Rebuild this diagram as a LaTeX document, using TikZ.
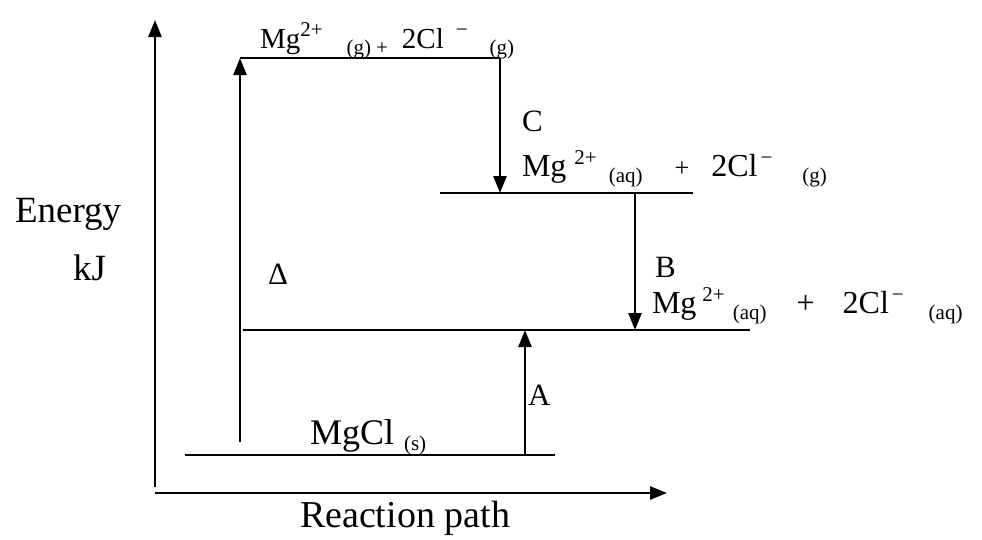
\documentclass[tikz,border=0pt]{standalone}
\usepackage{fontspec}
\setmainfont{Liberation Serif}
\usetikzlibrary{arrows.meta}
\newcommand{\sz}[1]{\fontsize{#1}{#1}\selectfont}
\newcommand{\sps}[1]{\raisebox{12pt}{\sz{21}#1}}
\newcommand{\sbs}[1]{\raisebox{-6pt}{\sz{21}#1}}
\begin{document}
\begin{tikzpicture}[x=1pt,y=-1pt,line width=2.6pt,
  ar/.style={-{Triangle[length=17pt,width=13pt]}},
  lbl/.style={anchor=base west,inner sep=0pt,outer sep=0pt},
  chem/.style={lbl,font=\sz{32}},
  axl/.style={lbl,font=\sz{37}}]
\useasboundingbox (0,0) rectangle (982,539);
% axes
\coordinate (yo) at (155,487);
\coordinate (yt) at (155,20);
\coordinate (xo) at (155,493);
\coordinate (xt) at (667,493);
\draw[ar] (yo) -- (yt);
\draw[ar] (xo) -- (xt);
% levels
\coordinate (tL) at (240,58);
\coordinate (tR) at (500,58);
\coordinate (cL) at (440,193);
\coordinate (cR) at (693,193);
\coordinate (bL) at (243,330);
\coordinate (bR) at (750,330);
\coordinate (sL) at (185,455);
\coordinate (sR) at (555,455);
\draw (tL) -- (tR);
\draw (cL) -- (cR);
\draw (bL) -- (bR);
\draw (sL) -- (sR);
% arrows
\coordinate (dS) at (240,442);
\coordinate (cE) at (500,193);
\coordinate (bS) at (635,193);
\coordinate (bE) at (635,330);
\coordinate (aS) at (525,455);
\coordinate (aE) at (525,330);
\draw[ar] (dS) -- (tL);
\draw[ar] (tR) -- (cE);
\draw[ar] (bS) -- (bE);
\draw[ar] (aS) -- (aE);
% labels
\node[lbl,font=\sz{29}] (top) at (260,48) {Mg\sps{2+}\hspace{24pt}\sbs{(g)}\hspace{5pt}\sbs{+}\hspace{14pt}2Cl\hspace{12pt}\sps{−}\hspace{22pt}\sbs{(g)}};
\node[chem,font=\sz{31}] (cl) at (522,131) {C};
\node[chem] (ct) at (522,176) {Mg\hspace{8pt}\sps{2+}\hspace{12pt}\sbs{(aq)}\hspace{32pt}{\sz{26}+}\hspace{22pt}2Cl\hspace{3pt}\sps{−}\hspace{30pt}\sbs{(g)}};
\node[chem,font=\sz{31}] (bl) at (655,277) {B};
\node[chem] (bt) at (652,313) {Mg\hspace{6pt}\sps{2+}\hspace{8pt}\sbs{(aq)}\hspace{30pt}+\hspace{28pt}2Cl\hspace{3pt}\sps{−}\hspace{25pt}\sbs{(aq)}};
\node[chem,font=\sz{31}] (dl) at (268,284) {Δ};
\node[chem,font=\sz{31}] (al) at (528,405) {A};
\node[lbl,font=\sz{36}] (ml) at (310,444) {MgCl\hspace{10pt}\sbs{(s)}};
\node[axl] (en) at (15,222) {Energy};
\node[axl] (kj) at (73,280) {kJ};
\node[lbl,font=\sz{38}] (rp) at (300,527) {Reaction path};
\end{tikzpicture}
\end{document}
